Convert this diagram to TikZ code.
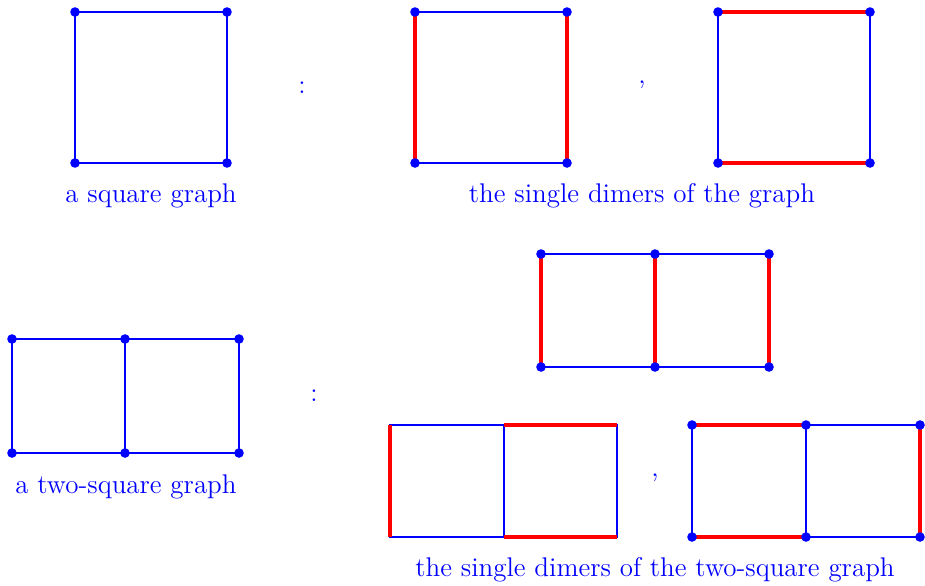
\documentclass[tikz,border=0pt]{standalone}
\begin{document}
\begin{tikzpicture}[x=0.5pt,y=-0.5pt,
  edge/.style={draw=blue,line width=0.55pt},
  dimer/.style={draw=red,line width=2pt},
  dot/.style={circle,fill=blue,inner sep=0pt,minimum size=4.8pt},
  lbl/.style={text=blue,font=\fontsize{13.5}{16}\selectfont,inner sep=0pt}]
\useasboundingbox (0,0) rectangle (925,585);
% ---- square graph
\coordinate (A1) at (75,12); \coordinate (A2) at (227,12);
\coordinate (A3) at (227,163); \coordinate (A4) at (75,163);
\draw[edge] (A1)--(A2)--(A3)--(A4)--cycle;
\foreach \p in {A1,A2,A3,A4} \node[dot] at (\p) {};
\node[lbl] (lA) at (151,196) {a square graph};
\node[lbl] (c1) at (302,88) {:};
% ---- dimer 1
\coordinate (B1) at (415,12); \coordinate (B2) at (567,12);
\coordinate (B3) at (567,163); \coordinate (B4) at (415,163);
\draw[edge] (B1)--(B2)--(B3)--(B4)--cycle;
\draw[dimer] (B1)--(B4); \draw[dimer] (B2)--(B3);
\foreach \p in {B1,B2,B3,B4} \node[dot] at (\p) {};
\node[lbl] (m1) at (642,85) {,};
% ---- dimer 2
\coordinate (C1) at (718,12); \coordinate (C2) at (870,12);
\coordinate (C3) at (870,163); \coordinate (C4) at (718,163);
\draw[edge] (C1)--(C2)--(C3)--(C4)--cycle;
\draw[dimer] (C1)--(C2); \draw[dimer] (C4)--(C3);
\foreach \p in {C1,C2,C3,C4} \node[dot] at (\p) {};
\node[lbl] (lB) at (642,196) {the single dimers of the graph};
% ---- two-square graph
\coordinate (D1) at (12,339); \coordinate (D2) at (125,339); \coordinate (D3) at (239,339);
\coordinate (D4) at (12,453); \coordinate (D5) at (125,453); \coordinate (D6) at (239,453);
\draw[edge] (D1)--(D3)--(D6)--(D4)--cycle; \draw[edge] (D2)--(D5);
\foreach \p in {D1,D2,D3,D4,D5,D6} \node[dot] at (\p) {};
\node[lbl] (lC) at (126,487) {a two-square graph};
\node[lbl] (c2) at (314,396) {:};
% ---- two-square dimer 1
\coordinate (E1) at (541,254); \coordinate (E2) at (655,254); \coordinate (E3) at (769,254);
\coordinate (E4) at (541,367); \coordinate (E5) at (655,367); \coordinate (E6) at (769,367);
\draw[edge] (E1)--(E3)--(E6)--(E4)--cycle; \draw[edge] (E2)--(E5);
\draw[dimer] (E1)--(E4); \draw[dimer] (E2)--(E5); \draw[dimer] (E3)--(E6);
\foreach \p in {E1,E2,E3,E4,E5,E6} \node[dot] at (\p) {};
% ---- two-square dimer 2 (no dots)
\coordinate (F1) at (390,425); \coordinate (F2) at (504,425); \coordinate (F3) at (617,425);
\coordinate (F4) at (390,537); \coordinate (F5) at (504,537); \coordinate (F6) at (617,537);
\draw[edge] (F1)--(F3)--(F6)--(F4)--cycle; \draw[edge] (F2)--(F5);
\draw[dimer] (F1)--(F4); \draw[dimer] (F2)--(F3); \draw[dimer] (F5)--(F6);
\node[lbl] (m2) at (655,478) {,};
% ---- two-square dimer 3
\coordinate (G1) at (692,425); \coordinate (G2) at (806,425); \coordinate (G3) at (920,425);
\coordinate (G4) at (692,537); \coordinate (G5) at (806,537); \coordinate (G6) at (920,537);
\draw[edge] (G1)--(G3)--(G6)--(G4)--cycle; \draw[edge] (G2)--(G5);
\draw[dimer] (G1)--(G2); \draw[dimer] (G4)--(G5); \draw[dimer] (G3)--(G6);
\foreach \p in {G1,G2,G3,G4,G5,G6} \node[dot] at (\p) {};
\node[lbl] (lD) at (655,570) {the single dimers of the two-square graph};
\end{tikzpicture}
\end{document}
